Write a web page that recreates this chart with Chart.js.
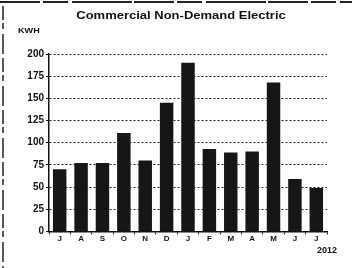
<!DOCTYPE html>
<html>
<head>
<meta charset="utf-8">
<script src="https://cdn.jsdelivr.net/npm/chart.js@4"></script>
<style>
  html, body { margin: 0; padding: 0; background: #fff; }
  #wrap { width: 352px; height: 268px; position: relative; }
</style>
</head>
<body>
<div id="wrap"><canvas id="chart"></canvas></div>
<script>
const months = ['J', 'A', 'S', 'O', 'N', 'D', 'J', 'F', 'M', 'A', 'M', 'J', 'J'];
const kwh = [70, 77, 77, 111, 80, 145, 190, 93, 89, 90, 168, 59, 49];
const yTicks = [0, 25, 50, 75, 100, 125, 150, 175, 200];

const chartTitle = 'Commercial Non-Demand Electric';
const unitLabel = 'KWH';
const yearLabel = '2012';

// stretched text, the scan looks wide
function wideText(ctx, text, x, y, sx) {
    ctx.save();
    ctx.translate(x, y);
    ctx.scale(sx, 1);
    ctx.fillText(text, 0, 0);
    ctx.restore();
}

// extra text and the scan frame
const decor = {
    id: 'decor',
    afterDraw(chart) {
        const ctx = chart.ctx;
        const area = chart.chartArea;
        ctx.save();
        ctx.fillStyle = '#111';
        ctx.textBaseline = 'middle';
        ctx.textAlign = 'center';
        ctx.font = 'bold 10px "Liberation Sans", Arial, sans-serif';
        wideText(ctx, chartTitle, 181, 16, 1.3);
        ctx.textAlign = 'left';
        ctx.font = 'bold 7px "Liberation Sans", Arial, sans-serif';
        wideText(ctx, unitLabel, 18, 31, 1.3);
        ctx.font = 'bold 9px "Liberation Sans", Arial, sans-serif';
        ctx.textAlign = 'right';
        ctx.fillText(yearLabel, area.right + 10, 251);

        ctx.strokeStyle = '#222';
        ctx.lineWidth = 2;
        ctx.setLineDash([40, 3, 25, 4, 60, 2]);
        ctx.beginPath();
        ctx.moveTo(0, 2); ctx.lineTo(352, 2);
        ctx.stroke();
        ctx.lineWidth = 1.5;
        ctx.setLineDash([14, 3, 6, 5, 20, 4]);
        ctx.beginPath();
        ctx.moveTo(3, 6); ctx.lineTo(3, 268);
        ctx.stroke();
        ctx.restore();
    }
};

new Chart(document.getElementById('chart'), {
    type: 'bar',
    data: {
        labels: months,
        datasets: [{
            data: kwh,
            backgroundColor: '#161616',
            borderWidth: 0,
            categoryPercentage: 0.63,
            barPercentage: 1
        }]
    },
    options: {
        responsive: true,
        maintainAspectRatio: false,
        animation: false,
        events: [],
        layout: { padding: { top: 54, right: 25, bottom: 24, left: 4 } },
        plugins: {
            legend: { display: false },
            title: { display: false },
            tooltip: { enabled: false }
        },
        scales: {
            x: {
                grid: {
                    display: true,
                    drawOnChartArea: false,
                    offset: true,
                    color: '#111',
                    tickLength: 3
                },
                border: { color: '#111', width: 1.5 },
                ticks: {
                    color: '#111',
                    padding: 0,
                    maxRotation: 0,
                    font: { family: '"Liberation Sans", Arial, sans-serif', size: 8, weight: 'bold' }
                }
            },
            y: {
                min: 0,
                max: 200,
                afterBuildTicks(scale) {
                    scale.ticks = yTicks.map(v => ({ value: v }));
                },
                afterFit(scale) { scale.width = 45; },
                grid: {
                    color: (c) => c.tick && c.tick.value === 0 ? 'rgba(0,0,0,0)' : '#222',
                    lineWidth: 1,
                    tickLength: 3,
                    tickColor: '#111'
                },
                border: { color: '#111', width: 1.5, dash: [2, 2] },
                ticks: {
                    color: '#111',
                    padding: 2,
                    font: { family: '"Liberation Sans", Arial, sans-serif', size: 10, weight: 'bold' }
                }
            }
        }
    },
    plugins: [decor]
});
</script>
</body>
</html>
